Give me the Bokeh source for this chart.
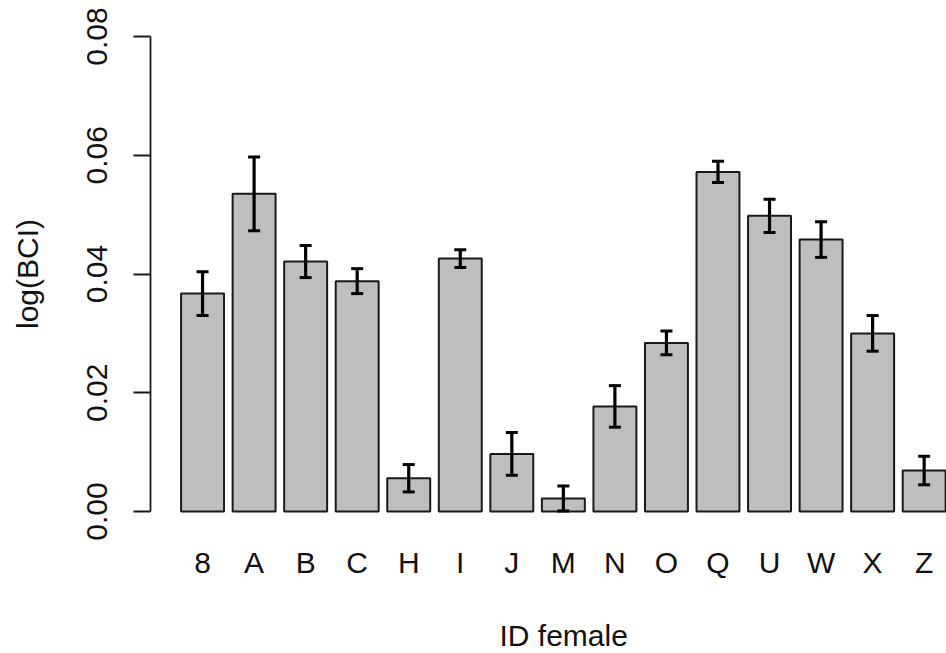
from bokeh.plotting import figure
from bokeh.models import (ColumnDataSource, Range1d, FixedTicker, PrintfTickFormatter,
                          Whisker, TeeHead, Title, LinearAxis)
from bokeh.embed import file_html
from bokeh.resources import INLINE

# ---- data ----
ids = ["8", "A", "B", "C", "H", "I", "J", "M", "N", "O", "Q", "U", "W", "X", "Z"]
means = [0.0367, 0.0535, 0.0421, 0.0388, 0.0056, 0.0426, 0.0097, 0.0022,
         0.0177, 0.0284, 0.0572, 0.0498, 0.0458, 0.0300, 0.0069]
errors = [0.0037, 0.0062, 0.0027, 0.0021, 0.0023, 0.0015, 0.0036, 0.0021,
          0.0035, 0.0020, 0.0018, 0.0028, 0.0030, 0.0030, 0.0024]
y_ticks = [0.0, 0.02, 0.04, 0.06, 0.08]

# barplot positions (width 1, space 0.2)
centers = [0.7 + 1.2 * i for i in range(len(ids))]
src = ColumnDataSource(dict(
    x=centers, top=means,
    upper=[m + e for m, e in zip(means, errors)],
    lower=[m - e for m, e in zip(means, errors)],
))

FONT = "Liberation Sans"
FS = "30px"
TXT = "#111111"

p = figure(width=946, height=653, output_backend="svg", toolbar_location=None,
           x_range=Range1d(-0.512, 18.02), y_range=Range1d(-0.0032, 0.0832),
           min_border_left=150, min_border_right=0, min_border_top=17,
           min_border_bottom=123)
p.background_fill_color = "white"
p.border_fill_color = "white"
p.outline_line_color = None
p.grid.visible = False

p.vbar(x="x", top="top", bottom=0, width=1.0, source=src,
       fill_color="#BEBEBE", line_color="#1a1a1a", line_width=2)

head_u = TeeHead(size=12, line_width=3, line_color="black")
head_l = TeeHead(size=12, line_width=3, line_color="black")
p.add_layout(Whisker(base="x", upper="upper", lower="lower", source=src,
                     dimension="height", line_width=3.2, line_color="black",
                     upper_head=head_u, lower_head=head_l, level="annotation"))

# y axis
ya = p.yaxis[0]
ya.ticker = FixedTicker(ticks=y_ticks)
ya.formatter = PrintfTickFormatter(format="%.2f")
ya.bounds = (0, 0.08)
ya.axis_line_color = "#1a1a1a"
ya.axis_line_width = 1.8
ya.major_tick_line_color = "#1a1a1a"
ya.major_tick_line_width = 1.8
ya.major_tick_out = 17
ya.major_tick_in = 0
ya.minor_tick_line_color = None
ya.major_label_orientation = "vertical"
ya.major_label_standoff = 27
ya.major_label_text_font = FONT
ya.major_label_text_font_size = FS
ya.major_label_text_color = TXT
ya.axis_label = "log(BCI)"
ya.axis_label_text_font = FONT
ya.axis_label_text_font_size = FS
ya.axis_label_text_font_style = "normal"
ya.axis_label_text_color = TXT
ya.axis_label_standoff = 40

# x axis
xa = p.xaxis[0]
xa.ticker = FixedTicker(ticks=centers)
xa.major_label_overrides = {c: n for c, n in zip(centers, ids)}
xa.axis_line_color = None
xa.major_tick_line_color = None
xa.minor_tick_line_color = None
xa.major_tick_out = 0
xa.major_label_standoff = 15
xa.major_label_text_font = FONT
xa.major_label_text_font_size = FS
xa.major_label_text_color = TXT

# blank spacer between tick labels and the x title (one white tick, no label)
spacer = LinearAxis(ticker=FixedTicker(ticks=[centers[0]]),
                    major_label_overrides={centers[0]: ""},
                    axis_line_color=None, major_tick_line_color="white",
                    major_tick_line_alpha=0.01, minor_tick_line_color=None,
                    major_tick_out=34, major_tick_in=0, major_label_standoff=0,
                    major_label_text_font_size="1px")
p.add_layout(spacer, "below")

p.add_layout(Title(text="ID female", align="left", offset=349,
                   text_font=FONT, text_font_size=FS, text_font_style="normal",
                   text_color=TXT, standoff=2), "below")

open("out.html", "w").write(file_html(p, INLINE))
